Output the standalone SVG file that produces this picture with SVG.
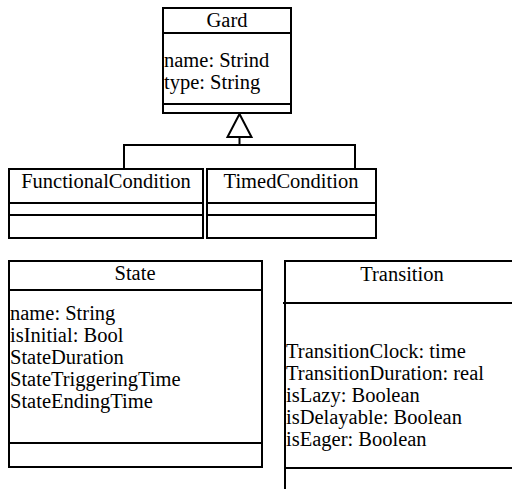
<svg xmlns="http://www.w3.org/2000/svg" width="512" height="489" viewBox="0 0 512 489">
<style>
.box{fill:#fff;stroke:#000;stroke-width:2}
.ln{stroke:#000;stroke-width:2;fill:none}
.t{font-family:'Liberation Serif','Times New Roman',Times,serif;font-size:20.5px;fill:#000}
.c{text-anchor:middle}
</style>
<rect width="512" height="489" fill="#fff"/>
<g id="connectors">
<polyline class="ln" points="124,168 124,145 355,145 355,168"/>
<line class="ln" x1="239.5" y1="145" x2="239.5" y2="137"/>
<polygon class="box" points="239.5,114 227.5,137 251.5,137"/>
</g>
<g id="Gard" class="t">
<rect class="box" x="163" y="8" width="128" height="105"/>
<line class="ln" x1="163" y1="33" x2="291" y2="33"/>
<line class="ln" x1="163" y1="104" x2="291" y2="104"/>
<text class="c" x="227" y="27">Gard</text>
<text x="164" y="67">name: Strind</text>
<text x="164" y="89">type: String</text>
</g>
<g id="FunctionalCondition" class="t">
<rect class="box" x="9" y="169" width="194" height="69"/>
<line class="ln" x1="9" y1="203" x2="203" y2="203"/>
<line class="ln" x1="9" y1="215" x2="203" y2="215"/>
<text class="c" x="106" y="188">FunctionalCondition</text>
</g>
<g id="TimedCondition" class="t">
<rect class="box" x="207" y="169" width="169" height="69"/>
<line class="ln" x1="207" y1="203" x2="376" y2="203"/>
<line class="ln" x1="207" y1="215" x2="376" y2="215"/>
<text class="c" x="291" y="188">TimedCondition</text>
</g>
<g id="State" class="t">
<rect class="box" x="9" y="261" width="253" height="206"/>
<line class="ln" x1="9" y1="290" x2="262" y2="290"/>
<line class="ln" x1="9" y1="443" x2="262" y2="443"/>
<text class="c" x="135" y="280">State</text>
<text x="10" y="320">name: String</text>
<text x="10" y="342">isInitial: Bool</text>
<text x="10" y="364">StateDuration</text>
<text x="10" y="386">StateTriggeringTime</text>
<text x="10" y="408">StateEndingTime</text>
</g>
<g id="Transition" class="t">
<rect class="box" x="285" y="261" width="240" height="240"/>
<line class="ln" x1="283" y1="303" x2="512" y2="303"/>
<line class="ln" x1="285" y1="468" x2="512" y2="468"/>
<text class="c" x="402" y="281">Transition</text>
<text x="286" y="358">TransitionClock: time</text>
<text x="286" y="380">TransitionDuration: real</text>
<text x="286" y="402">isLazy: Boolean</text>
<text x="286" y="424">isDelayable: Boolean</text>
<text x="286" y="446">isEager: Boolean</text>
</g>
</svg>
